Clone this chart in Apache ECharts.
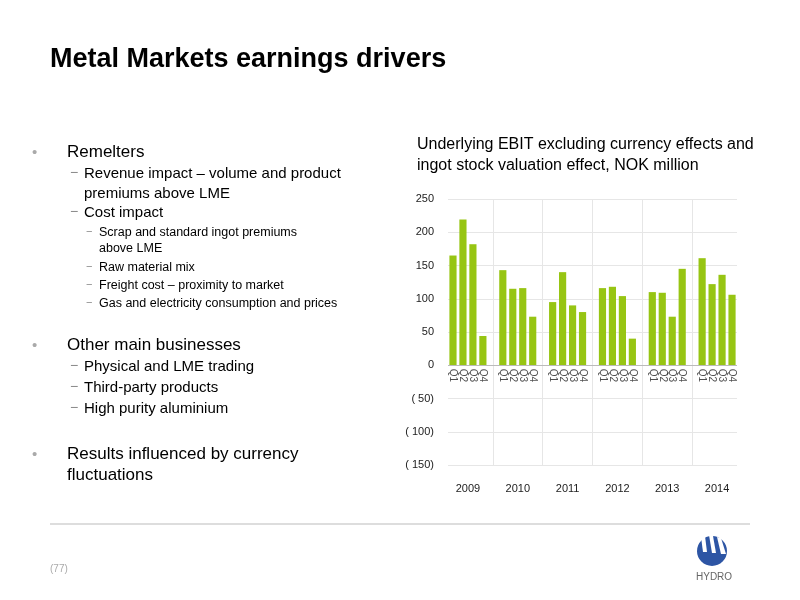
<!DOCTYPE html>
<html><head><meta charset="utf-8">
<script src="https://cdn.jsdelivr.net/npm/echarts@6/dist/echarts.min.js"></script>
<style>html,body{margin:0;padding:0;background:#fff}#c{width:800px;height:600px}</style>
</head><body><div id="c"></div>
<script>
const years = ['2009','2010','2011','2012','2013','2014'];
const quarters = ['Q1','Q2','Q3','Q4'];
const v2009 = [165, 219, 182, 44];
const v2010 = [143, 115, 116, 73];
const v2011 = [95, 140, 90, 80];
const v2012 = [116, 118, 104, 40];
const v2013 = [110, 109, 73, 145];
const v2014 = [161, 122, 136, 106];
const yTicks = [-150, -100, -50, 0, 50, 100, 150, 200, 250];

const allVals = [v2009, v2010, v2011, v2012, v2013, v2014];
const cats = [], data = [], gapIdx = [], qLabels = [];
allVals.forEach((arr, yi) => {
  if (yi > 0) { gapIdx.push(cats.length); cats.push('gap' + yi); data.push('-'); }
  arr.forEach((v, qi) => {
    qLabels.push({value: [cats.length, 0], name: quarters[qi]});
    cats.push(quarters[qi] + '_' + yi); data.push(v);
  });
});
const yearCats = [];
for (let i = 0; i < 30; i++) yearCats.push('p' + i);
const yearPos = {2: years[0], 7: years[1], 12: years[2], 17: years[3], 22: years[4], 27: years[5]};

const F = 'Liberation Sans, Arial, sans-serif';
const chart = echarts.init(document.getElementById('c'));
const txt = (x, y, t, size, color, weight) => ({type: 'text', left: x, top: y, style: {text: t, fontSize: size, fill: color || '#000', fontFamily: F, fontWeight: weight || 'normal'}});
const g = [
  txt(50, 46, 'Metal Markets earnings drivers', 27, '#000', 'bold'),
  txt(417, 137, 'Underlying EBIT excluding currency effects and', 16),
  txt(417, 158, 'ingot stock valuation effect, NOK million', 16),
  txt(32, 145, '•', 15, '#aaa'), txt(67, 144, 'Remelters', 17),
  txt(70, 166, '−', 14, '#888'), txt(84, 166, 'Revenue impact – volume and product', 15),
  txt(84, 186, 'premiums above LME', 15),
  txt(70, 205, '−', 14, '#888'), txt(84, 205, 'Cost impact', 15),
  txt(86, 226, '−', 11, '#888'), txt(99, 226, 'Scrap and standard ingot premiums', 12.5),
  txt(99, 242, 'above LME', 12.5),
  txt(86, 261, '−', 11, '#888'), txt(99, 261, 'Raw material mix', 12.5),
  txt(86, 279, '−', 11, '#888'), txt(99, 279, 'Freight cost – proximity to market', 12.5),
  txt(86, 297, '−', 11, '#888'), txt(99, 297, 'Gas and electricity consumption and prices', 12.5),
  txt(32, 338, '•', 15, '#aaa'), txt(67, 337, 'Other main businesses', 17),
  txt(70, 359, '−', 14, '#888'), txt(84, 359, 'Physical and LME trading', 15),
  txt(70, 380, '−', 14, '#888'), txt(84, 380, 'Third-party products', 15),
  txt(70, 401, '−', 14, '#888'), txt(84, 401, 'High purity aluminium', 15),
  txt(32, 447, '•', 15, '#aaa'), txt(67, 446, 'Results influenced by currency', 17),
  txt(67, 467, 'fluctuations', 17),
  txt(50, 564, '(77)', 10, '#aaa'),
  {type: 'line', shape: {x1: 50, y1: 524, x2: 750, y2: 524}, style: {stroke: '#bbb', lineWidth: 1}},
  {type: 'circle', shape: {cx: 712, cy: 551, r: 15}, style: {fill: '#2d55a4'}},
  {type: 'polygon', shape: {points: [[701,537],[705,536],[707,552],[703,552]]}, style: {fill: '#fff'}},
  {type: 'polygon', shape: {points: [[709,535],[713,536],[716,553],[712,553]]}, style: {fill: '#fff'}},
  {type: 'polygon', shape: {points: [[717,537],[721,538],[726,554],[721,554]]}, style: {fill: '#fff'}},
  txt(696, 572, 'HYDRO', 10, '#666')
];
chart.setOption({
  animation: false,
  graphic: g,
  grid: {left: 448, right: 63, top: 199, bottom: 135},
  yAxis: {type: 'value', min: yTicks[0], max: yTicks[yTicks.length - 1], interval: 50,
    axisLine: {show: false}, axisTick: {show: false},
    splitLine: {lineStyle: {color: '#e6e6e6'}},
    axisLabel: {fontSize: 11, color: '#222', fontFamily: F, margin: 14,
      formatter: v => v < 0 ? '( ' + (-v) + ')' : String(v)}},
  xAxis: [
    {type: 'category', data: cats, axisLine: {show: false}, axisTick: {show: false}, axisLabel: {show: false}},
    {type: 'category', data: yearCats, boundaryGap: false, position: 'bottom', offset: 10,
      axisLine: {show: false}, axisTick: {show: false},
      axisLabel: {interval: 0, fontSize: 11, color: '#222', fontFamily: F,
        formatter: (v, i) => yearPos[i] || ''}}
  ],
  series: [
    {type: 'bar', data: data, barWidth: '72%', itemStyle: {color: '#97c513'},
      markLine: {silent: true, symbol: 'none', label: {show: false},
        lineStyle: {color: '#e6e6e6', type: 'solid', width: 1},
        data: gapIdx.map(i => ({xAxis: i})).concat([{yAxis: 0, lineStyle: {color: '#bbb'}}])}},
    {type: 'scatter', xAxisIndex: 0, data: qLabels, symbolSize: 1, itemStyle: {color: 'rgba(0,0,0,0)'}, silent: true,
      labelLayout: {hideOverlap: false},
      label: {show: true, formatter: p => p.name, position: 'bottom', distance: 3,
        rotate: -90, align: 'left', verticalAlign: 'middle', fontSize: 10, color: '#222', fontFamily: F}}
  ]
});
</script></body></html>
